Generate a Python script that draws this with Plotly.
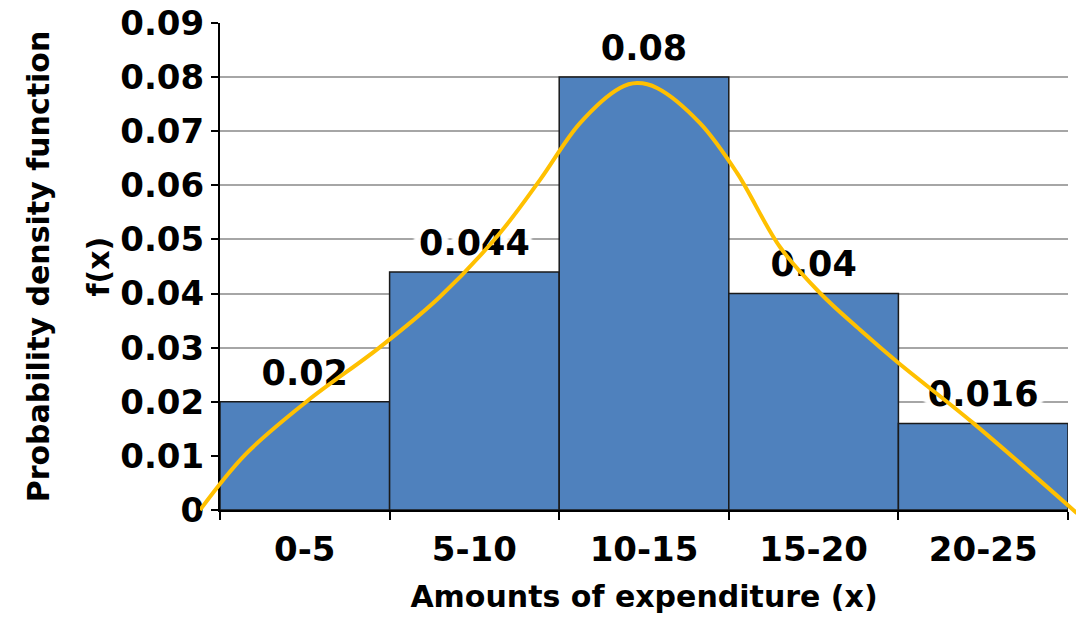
import plotly.graph_objects as go

# ---------------- data ----------------
categories = ["0-5", "5-10", "10-15", "15-20", "20-25"]
class_lower = [0, 5, 10, 15, 20]
class_width = 5
density = [0.02, 0.044, 0.08, 0.04, 0.016]
density_labels = ["0.02", "0.044", "0.08", "0.04", "0.016"]

# smooth density curve (x in expenditure units)
curve_x = [-0.590, 0.737, 2.565, 4.717, 6.486, 8.255, 9.434, 10.613, 11.792, 12.294,
           12.883, 14.151, 15.242, 16.509, 17.689, 18.868, 19.959, 22.199, 25.265]
curve_y = [0.0, 0.0102, 0.0201, 0.0301, 0.0394, 0.0512, 0.0610, 0.0715, 0.0780, 0.0789,
           0.0780, 0.0715, 0.0623, 0.0486, 0.0401, 0.0333, 0.0274, 0.0161, -0.0006]

y_ticks = [0, 0.01, 0.02, 0.03, 0.04, 0.05, 0.06, 0.07, 0.08, 0.09]

# ---------------- layout geometry ----------------
W, H = 1081, 617
ML, MR, MT, MB = 200, 5, 23, 97
plot_w = W - ML - MR
plot_h = H - MT - MB
ax_left, ax_right = 20, 8      # px inset of main x axis inside curve area
ax_bottom = 10                 # px inset of main y axis bottom
x_dom = [ax_left / plot_w, 1 - ax_right / plot_w]
y_dom = [ax_bottom / plot_h, 1]

x_min, x_max = class_lower[0], class_lower[-1] + class_width
y_min, y_max = 0, 0.09
x_per_px = (x_max - x_min) / (plot_w - ax_left - ax_right)
y_per_px = (y_max - y_min) / (plot_h - ax_bottom)
x2_range = [x_min - ax_left * x_per_px, x_max + ax_right * x_per_px]
y2_range = [y_min - ax_bottom * y_per_px, y_max]

centers = [lo + class_width / 2 for lo in class_lower]

FONT = "DejaVu Sans"

fig = go.Figure()

fig.add_trace(go.Bar(
    x=centers, y=density, width=class_width,
    marker=dict(color="#4F81BD", line=dict(color="#1a1a1a", width=1.5)),
    hoverinfo="skip", showlegend=False,
))

fig.add_trace(go.Scatter(
    x=centers, y=density, text=density_labels,
    mode="markers+text", textposition="top center",
    marker=dict(size=12, color="rgba(0,0,0,0)"),
    textfont=dict(family=FONT, size=35, color="black", weight="bold",
                  shadow="0 0 4px white, 0 0 4px white, 0 0 4px white, 7px 0 2px white, -7px 0 2px white"),
    hoverinfo="skip", showlegend=False,
))

fig.add_trace(go.Scatter(
    x=curve_x, y=curve_y, mode="lines",
    line=dict(color="#FFC000", width=4, shape="spline", smoothing=1),
    xaxis="x2", yaxis="y2", hoverinfo="skip", showlegend=False,
))

fig.update_layout(
    template="none",
    width=W, height=H,
    margin=dict(l=ML, r=MR, t=MT, b=MB, autoexpand=False),
    paper_bgcolor="white", plot_bgcolor="rgba(0,0,0,0)",
    font=dict(family=FONT, color="black", weight="bold"),
    xaxis=dict(
        domain=x_dom, range=[x_min, x_max], anchor="y", automargin=False,
        tickmode="array", tickvals=centers, ticktext=categories, ticks="",
        tickfont=dict(family=FONT, size=34, color="black", weight="bold"),
        ticklabelstandoff=8, ticklabeloverflow="allow",
        showline=True, linecolor="black", linewidth=2, showgrid=False, zeroline=False,
        minor=dict(tickmode="linear", tick0=x_min, dtick=class_width, ticks="outside",
                   ticklen=8, tickwidth=2, tickcolor="black", showgrid=False),
        title=dict(text="Amounts of expenditure (x)", standoff=18,
                   font=dict(family=FONT, size=30, color="black", weight="bold")),
    ),
    yaxis=dict(
        domain=y_dom, range=[y_min, y_max], anchor="x", automargin=False,
        tickmode="array", tickvals=y_ticks, ticklabeloverflow="allow",
        ticks="outside", ticklen=7, tickwidth=2, tickcolor="black",
        tickfont=dict(family=FONT, size=34, color="black", weight="bold"),
        showline=True, linecolor="black", linewidth=2,
        showgrid=True, gridcolor="#a6a6a6", gridwidth=1.5, zeroline=False,
        title=dict(text="Probability density function", standoff=62,
                   font=dict(family=FONT, size=30, color="black", weight="bold")),
    ),
    xaxis2=dict(domain=[0, 1], range=x2_range, anchor="y2", visible=False,
                fixedrange=True, automargin=False),
    yaxis2=dict(domain=[0, 1], range=y2_range, anchor="x2", visible=False,
                fixedrange=True, automargin=False),
    annotations=[dict(
        text="f(x)", xref="paper", yref="y domain", x=0, y=0.5,
        xshift=-102, xanchor="center", yanchor="middle", textangle=-90, showarrow=False,
        font=dict(family=FONT, size=30, color="black", weight="bold"),
    )],
)

# remove the browser's default 8 px body margin so the figure fills the window
fig.write_html("out.html", config={"displayModeBar": False},
               post_script="document.body.style.margin='0';")
